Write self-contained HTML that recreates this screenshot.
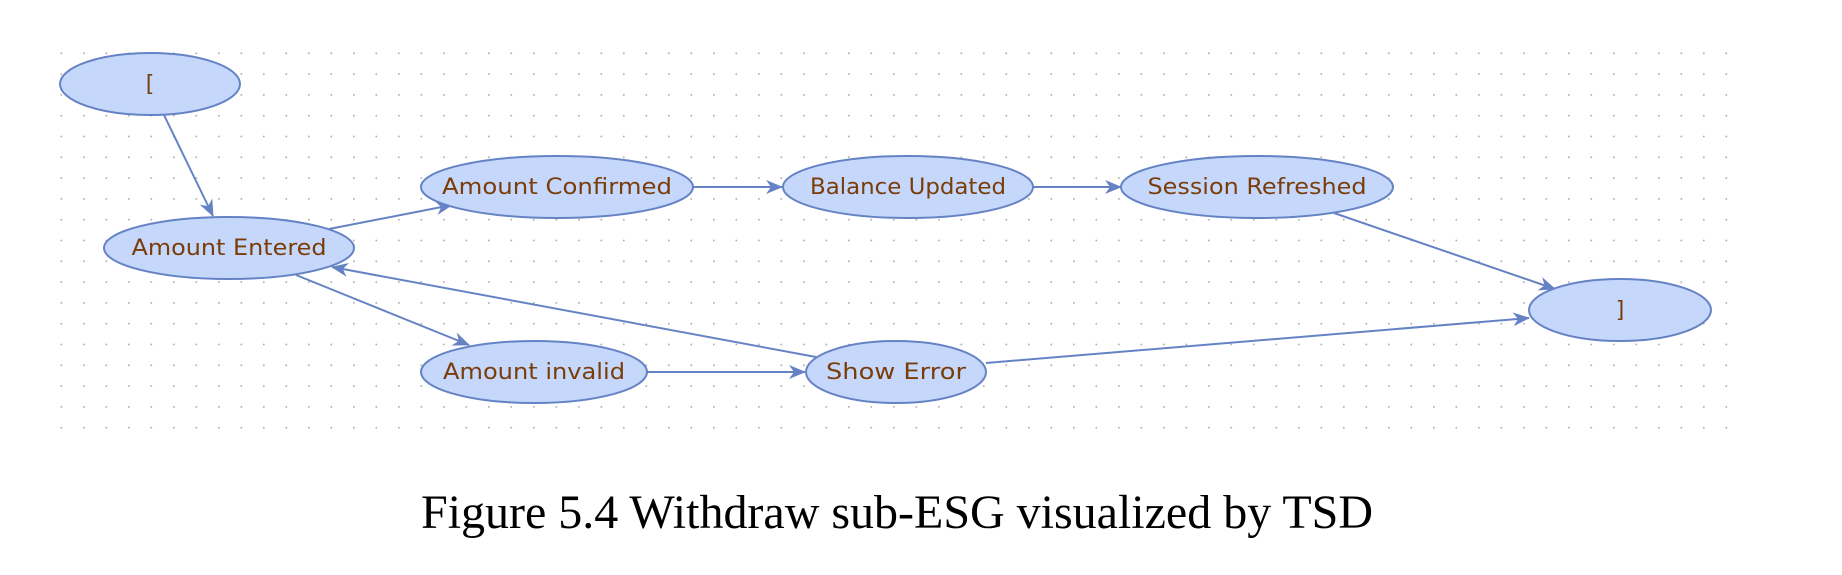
<!DOCTYPE html>
<html><head><style>html,body{margin:0;padding:0;background:#fff}</style></head>
<body>
<svg width="1842" height="570" xmlns="http://www.w3.org/2000/svg">
<defs>
<pattern id="d" x="60.5" y="52.5" width="22.5" height="20.8" patternUnits="userSpaceOnUse">
<rect x="0" y="0" width="1.6" height="1.6" fill="#aaaaaa"/>
</pattern>
<marker id="a" markerWidth="17" markerHeight="14" refX="16" refY="7" orient="auto" markerUnits="userSpaceOnUse">
<path d="M0,0 L17,7 L0,14 L5,7 Z" fill="#6583c4"/>
</marker>
</defs>
<rect x="58" y="50" width="1680" height="396" fill="url(#d)"/>
<g stroke="#6583c4" stroke-width="2" fill="none" marker-end="url(#a)">
<line x1="164" y1="115" x2="213" y2="216"/>
<line x1="329" y1="229" x2="452" y2="205"/>
<line x1="692" y1="187" x2="782" y2="187"/>
<line x1="1032" y1="187" x2="1121" y2="187"/>
<line x1="1334" y1="213" x2="1555" y2="289"/>
<line x1="296" y1="275" x2="469" y2="345"/>
<line x1="647" y1="372" x2="805" y2="372"/>
<line x1="816" y1="357" x2="332" y2="267"/>
<line x1="986" y1="363" x2="1529" y2="318"/>
</g>
<g fill="#c5d8fb" stroke="#6583c4" stroke-width="2">
<ellipse cx="150" cy="84" rx="90" ry="31"/>
<ellipse cx="229" cy="248" rx="125" ry="31"/>
<ellipse cx="557" cy="187" rx="136" ry="31"/>
<ellipse cx="908" cy="187" rx="125" ry="31"/>
<ellipse cx="1257" cy="187" rx="136" ry="31"/>
<ellipse cx="1620" cy="310" rx="91" ry="31"/>
<ellipse cx="534" cy="372" rx="113" ry="31"/>
<ellipse cx="896" cy="372" rx="90" ry="31"/>
</g>
<g font-family="'DejaVu Sans','Liberation Sans',sans-serif" font-size="22" fill="#7a3d0a" text-anchor="middle">
<text x="150" y="91">[</text>
<text x="229" y="255" textLength="195" lengthAdjust="spacingAndGlyphs">Amount Entered</text>
<text x="557" y="194" textLength="230" lengthAdjust="spacingAndGlyphs">Amount Confirmed</text>
<text x="908" y="194" textLength="196" lengthAdjust="spacingAndGlyphs">Balance Updated</text>
<text x="1257" y="194" textLength="219" lengthAdjust="spacingAndGlyphs">Session Refreshed</text>
<text x="1620" y="317">]</text>
<text x="534" y="379" textLength="182" lengthAdjust="spacingAndGlyphs">Amount invalid</text>
<text x="896" y="379" textLength="140" lengthAdjust="spacingAndGlyphs">Show Error</text>
</g>
<text x="897" y="528" font-family="'Liberation Serif',serif" font-size="48" fill="#000" text-anchor="middle" textLength="952" lengthAdjust="spacingAndGlyphs">Figure 5.4 Withdraw sub-ESG visualized by TSD</text>
</svg>
</body></html>
